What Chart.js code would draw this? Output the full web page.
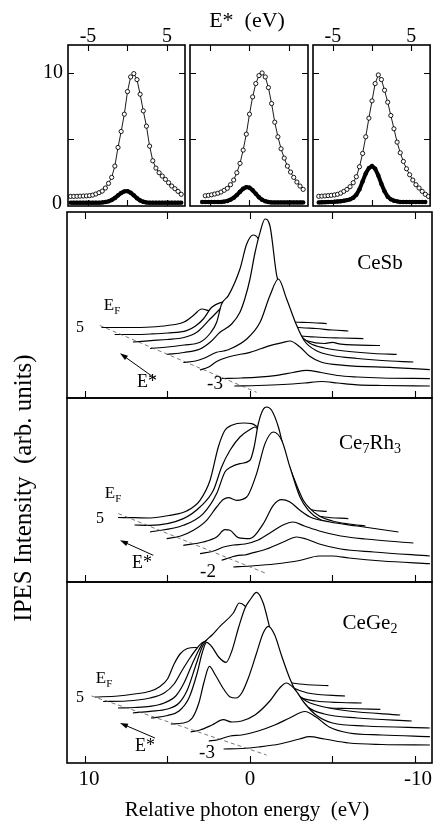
<!DOCTYPE html>
<html>
<head>
<meta charset="utf-8">
<script src="https://cdn.jsdelivr.net/npm/chart.js@4.4.0/dist/chart.umd.min.js"></script>
<style>
  html, body { margin: 0; background: #fff; }
  #wrap { position: relative; width: 435px; height: 823px; }
  #wrap canvas { position: absolute; left: 0; top: 0; }
</style>
</head>
<body>
<div id="wrap">
  <canvas id="res1" width="435" height="823"></canvas>
  <canvas id="res2" width="435" height="823"></canvas>
  <canvas id="res3" width="435" height="823"></canvas>
  <canvas id="specSb" width="435" height="823"></canvas>
  <canvas id="specRh" width="435" height="823"></canvas>
  <canvas id="specGe" width="435" height="823"></canvas>
</div>
<script>
// resonance profiles, E* grid (eV)
const eGrid = [-7.2,-6.8,-6.4,-6.0,-5.6,-5.2,-4.8,-4.4,-4.0,-3.6,-3.2,-2.8,-2.4,-2.0,-1.6,-1.2,-0.8,-0.4,0,
  0.4,0.8,1.2,1.6,2.0,2.4,2.8,3.2,3.6,4.0,4.4,4.8,5.2,5.6,6.0,6.4,6.8,7.2];

const openSb = [0.72,0.72,0.73,0.74,0.75,0.76,0.78,0.82,0.9,1.0,1.12,1.35,1.7,2.15,3.0,4.4,5.6,6.9,8.6,
  9.7,9.95,9.5,8.4,7.15,6.0,4.5,3.4,2.85,2.5,2.25,2.0,1.75,1.5,1.3,1.1,0.88,null];
const filledSb = [0.25,0.25,0.25,0.25,0.25,0.25,0.25,0.25,0.25,0.25,0.27,0.3,0.35,0.45,0.6,0.8,0.98,1.1,1.12,
  1.0,0.8,0.58,0.42,0.32,0.27,0.25,0.25,0.25,0.25,0.25,0.25,0.25,0.25,0.25,0.25,0.25,null];

const openRh = [null,null,null,null,0.77,0.8,0.84,0.9,0.96,1.05,1.18,1.33,1.6,1.95,2.5,3.2,4.2,5.4,6.9,
  8.2,9.2,9.8,10.0,9.7,8.9,7.7,6.3,5.2,4.3,3.6,3.0,2.55,2.15,1.8,1.5,1.25,null];
const filledRh = [null,null,null,0.3,0.3,0.3,0.3,0.3,0.3,0.3,0.33,0.38,0.48,0.62,0.82,1.07,1.3,1.42,1.38,
  1.18,0.92,0.66,0.47,0.36,0.3,0.27,0.27,0.27,0.27,0.27,0.27,0.27,0.27,0.27,0.27,0.27,null];

const openGe = [null,0.73,0.74,0.76,0.78,0.8,0.83,0.88,0.97,1.1,1.25,1.45,1.75,2.2,2.95,3.95,5.2,6.6,7.9,
  9.2,9.85,9.5,8.7,7.8,6.8,5.8,4.8,4.0,3.35,2.8,2.35,1.95,1.6,1.35,1.1,0.88,0.72];
const filledGe = [null,0.27,0.28,0.29,0.3,0.31,0.32,0.34,0.36,0.39,0.44,0.5,0.62,0.85,1.25,1.85,2.45,2.85,3.0,
  2.8,2.3,1.65,1.1,0.7,0.5,0.4,0.35,0.3,0.3,0.3,0.3,0.3,0.3,0.3,0.3,0.3,null];

// IPES spectra: [relative photon energy (eV), intensity], back curve first
const cesb1 = [[9.0,70.5],[7.5,70.5],[6.0,71],[5.0,72.5],[4.0,76],[3.4,83],[2.93,89],[2.4,87],[1.5,86],[0.5,84],[-1.0,81],[-2.7,76],[-3.5,75.5],[-4.65,74.4]];
const cesb2 = [[8.2,63.5],[7.0,63.5],[6.0,64],[5.0,65],[3.84,67.4],[3.3,72],[2.83,79],[2.32,90.7],[1.72,95.7],[1.2,97],[0.5,95],[-0.5,88],[-1.5,80],[-2.8,71],[-4.0,69.5],[-5.0,68],[-5.96,67]];
const cesb3 = [[7.1,56],[6.0,57.4],[5.0,58.5],[4.0,60.5],[3.2,66],[2.42,79],[1.82,89],[1.31,98.4],[0.8,100],[0,95],[-1.0,86],[-2.0,72],[-2.9,63],[-4.0,61],[-5.5,60],[-6.87,59.4]];
const cesb4 = [[6.06,49.5],[5.0,51],[4.0,53],[3.03,55.7],[2.4,65],[2.02,75.7],[1.72,94],[1.31,102.4],[0.61,129],[0.2,154],[-0.2,163],[-0.51,159],[-0.8,146],[-1.2,125],[-1.7,100],[-2.3,78],[-2.9,62],[-3.5,57],[-4.5,54.5],[-5.0,55.6],[-5.5,53.8],[-7.88,52.5]];
const cesb5 = [[5.05,43.5],[4.0,45.5],[3.03,49],[2.4,56],[1.82,65.7],[1.11,74],[0.61,85.7],[0.3,100],[0,119],[-0.3,145],[-0.61,165.7],[-0.91,179],[-1.21,172],[-1.62,122.4],[-2.22,92.4],[-2.63,75.7],[-3.0,64],[-3.6,55],[-4.5,50],[-6.0,46.5],[-7.5,44.5],[-8.89,43.7]];
const cesb6 = [[4.04,35.5],[3.3,37],[2.83,39.5],[2.02,45.7],[1.6,47],[1.21,49],[0.2,59],[-0.61,75.7],[-1.21,102.4],[-1.72,119],[-2.22,99],[-2.83,72.4],[-3.3,57],[-4.0,47.5],[-5.0,42.5],[-6.5,39.5],[-8.0,37.5],[-9.9,36]];
const cesb7 = [[3.03,28],[2.5,31],[2.02,36.5],[1.21,41.5],[0,45.7],[-1.21,52.4],[-2.02,55.7],[-2.42,57],[-3.03,51],[-3.6,42],[-4.3,36],[-5.7,32.7],[-8.7,30.4],[-10.9,28.4]];
const cesb8 = [[1.7,19.5],[0.5,20],[-0.5,20.8],[-1.64,22.7],[-2.6,25.5],[-3.43,27.7],[-4.3,25.5],[-5.3,22.5],[-6.5,21],[-8.0,20],[-10.9,19.4]];
const cesb9 = [[0.95,12],[-0.5,12.5],[-2.0,13.5],[-3.3,15],[-4.34,16.5],[-5.3,15],[-6.5,13.2],[-8.0,12.5],[-10.9,12]];
const cesbEF = [[9.1,72.5],[-0.4,5.7]];

const rh1 = [[8.0,64.5],[7.0,64.3],[6.06,64],[4.85,66.7],[3.84,71],[3.03,81.7],[2.42,101.7],[1.92,135],[1.52,151.7],[1.11,156.7],[0.4,159],[-0.1,158.4],[-0.4,155.7],[-0.8,150],[-1.4,132],[-2.0,108],[-2.6,88],[-3.2,76],[-3.8,72],[-4.65,70.7]];
const rh2 = [[7.0,57],[6.06,56.7],[4.04,63.4],[3.03,75],[2.22,91.7],[1.72,115],[1.21,131.7],[0.61,145],[0,152.4],[-0.3,155],[-0.6,150],[-1.1,136],[-1.7,115],[-2.4,90],[-3.0,75],[-3.6,68],[-4.5,65],[-5.96,63.4]];
const rh3 = [[6.06,50],[4.04,56.7],[2.83,68.4],[2.02,88.4],[1.52,110],[1.21,114.4],[0.61,118.4],[0,121.7],[-0.25,135],[-0.5,158],[-0.78,172],[-1.01,175],[-1.31,171.7],[-1.72,155],[-2.12,128.4],[-2.63,105],[-3.23,81.7],[-3.64,73.4],[-4.2,66],[-5.0,61],[-6.0,58],[-7.0,56]];
const rh4 = [[5.05,43.4],[4.2,46],[3.43,51.7],[2.63,61.7],[2.02,75],[1.62,82.4],[1.31,84.4],[0.81,81.7],[0.2,85],[-0.4,108.4],[-0.91,138.4],[-1.41,150],[-1.92,141.7],[-2.42,115],[-3.03,85],[-3.54,71.7],[-4.2,63],[-5.2,58],[-6.5,55],[-8.0,52]];
const rh5 = [[4.04,36.7],[2.83,40],[2.02,45],[1.52,52.4],[1.21,51.7],[0.71,44.4],[0,43.4],[-0.81,58.4],[-1.41,76.7],[-1.92,82.4],[-2.42,80],[-3.03,71.7],[-3.64,65],[-4.85,60],[-6.5,56],[-9.0,50]];
const rh6 = [[3.03,28.4],[2.2,31],[1.6,35],[1.0,37],[0.3,38],[-0.5,42],[-1.3,50],[-2.0,57],[-2.6,60],[-3.3,56],[-4.2,51],[-5.5,46],[-7.0,43],[-9.9,39]];
const rh7 = [[1.72,21.7],[1.2,24.5],[0.71,26.7],[0.3,27],[0,28.4],[-1.0,33],[-2.02,40],[-2.83,45],[-3.4,43],[-4.2,38],[-5.5,33],[-7.5,30],[-10.9,26]];
const rh8 = [[1.01,15],[0,16],[-1.5,18],[-3.0,21.5],[-4.2,26],[-5.0,26],[-6.0,24],[-8.0,21],[-10.9,18.4]];
const rhEF = [[7.98,68.4],[-1.0,8.4]];

const ge1 = [[9.4,66],[8.0,67],[7.0,69],[6.06,71.7],[5.5,76],[5.0,84],[4.6,99],[4.24,109],[3.8,114.5],[3.3,115.5],[2.9,114],[2.0,106],[1.0,100],[0,95],[-1.0,88],[-2.0,82],[-3.0,79],[-4.75,77.3]];
const ge2 = [[8.9,61.5],[7.5,62],[6.06,65],[5.2,70],[4.6,79],[4.1,93],[3.6,106],[3.2,115],[2.8,121],[2.5,120],[1.5,112],[0.5,104],[-0.5,96],[-1.5,86],[-2.5,76],[-3.5,70],[-5.76,67]];
const ge3 = [[8.0,55],[7.0,55.5],[6.06,56.7],[5.2,60],[4.5,67],[4.0,80],[3.5,99],[3.1,113],[2.8,121],[2.5,123],[2.0,121],[1.0,114],[0,106],[-1.0,95],[-2.0,80],[-3.0,66],[-4.0,62],[-5.5,60.5],[-6.77,60]];
const ge4 = [[7.1,50],[6.06,51.7],[5.0,54],[4.3,60],[3.8,73],[3.3,97],[2.9,116],[2.63,123],[2.3,128],[1.82,136.7],[1.01,150],[0.65,160],[0.3,157],[0,150],[-0.6,135],[-1.2,115],[-1.8,95],[-2.5,75],[-3.2,62],[-4.2,56],[-6.0,54.5],[-7.9,53.7]];
const ge5 = [[6.0,45],[5.0,47.5],[4.3,52],[3.7,65],[3.2,90],[2.9,110],[2.63,120.7],[2.3,116],[1.9,106],[1.45,100.7],[1.1,112],[0.7,135],[0.3,155],[0,163],[-0.4,170.7],[-0.8,160],[-1.2,135],[-1.6,110],[-2.1,88],[-2.7,72],[-3.4,62],[-4.5,56],[-6.0,52],[-9.1,48]];
const ge6 = [[4.8,39],[4.04,40],[3.5,45],[3.1,60],[2.8,80],[2.46,96.7],[2.1,88],[1.6,74],[1.2,66],[0.85,65],[0.5,70],[0.1,85],[-0.4,110],[-0.8,130],[-1.11,136.7],[-1.5,128],[-1.9,108],[-2.4,85],[-2.9,68],[-3.5,56],[-4.5,49],[-6.5,45],[-9.8,42]];
const ge7 = [[3.6,31],[3.03,33],[2.3,38],[1.62,43.3],[1.1,41],[0.5,42],[-0.3,48],[-1.2,62],[-1.8,75],[-2.2,80],[-2.7,74],[-3.3,60],[-4.0,48],[-5.0,40],[-7.0,37],[-10.9,35]];
const ge8 = [[2.5,22],[2.0,23],[1.2,27],[0.5,28],[-0.5,32],[-1.5,38],[-2.4,45],[-3.33,51.5],[-4.0,46],[-4.8,36],[-6.0,30],[-8.0,28],[-10.9,26.3]];
const ge9 = [[1.6,14],[0.5,14.5],[-0.5,16],[-1.8,19],[-3.0,24],[-3.6,26.3],[-4.5,24],[-6.0,20],[-8.0,18.5],[-10.9,18]];
const geEF = [[9.6,67],[-1.0,8]];

const photonTicks = [10, 5, 0, -5, -10];
const eStarTicks = [-5, 0, 5];
const resTicks = [5, 10];

const W = 435, H = 823;
const serif = "'Liberation Serif','DejaVu Serif','Times New Roman',serif";

// text with optional subscript pieces: ['Ce', ['7'], 'Rh', ['3']]
function drawText(ctx, parts, x, y, size, align) {
  const pieces = parts.map(p => Array.isArray(p)
    ? { t: p[0], s: Math.round(size * 0.66), dy: size * 0.3 }
    : { t: p, s: size, dy: 0 });
  let w = 0;
  for (const p of pieces) { ctx.font = p.s + 'px ' + serif; p.w = ctx.measureText(p.t).width; w += p.w; }
  let cx = align === 'right' ? x - w : align === 'left' ? x : x - w / 2;
  ctx.textAlign = 'left';
  ctx.textBaseline = 'middle';
  for (const p of pieces) { ctx.font = p.s + 'px ' + serif; ctx.fillText(p.t, cx, y + p.dy); cx += p.w; }
}

// frame, inward ticks, arrows and labels
const decor = {
  id: 'decor',
  afterDraw(chart, args, o) {
    const ctx = chart.ctx, a = chart.chartArea, sx = chart.scales.x, sy = chart.scales.y;
    ctx.save();
    ctx.strokeStyle = '#000';
    ctx.fillStyle = '#000';
    ctx.lineWidth = 1.1;
    ctx.beginPath();
    for (const v of o.xTicks || []) {
      const px = Math.round(sx.getPixelForValue(v)) + 0.5;
      if (o.topTicks) { ctx.moveTo(px, a.top); ctx.lineTo(px, a.top + o.tick); }
      ctx.moveTo(px, a.bottom); ctx.lineTo(px, a.bottom - o.tick);
    }
    for (const v of o.yTicks || []) {
      const py = Math.round(sy.getPixelForValue(v)) + 0.5;
      ctx.moveTo(a.left, py); ctx.lineTo(a.left + o.tick, py);
      ctx.moveTo(a.right, py); ctx.lineTo(a.right - o.tick, py);
    }
    ctx.stroke();
    ctx.lineWidth = 1.6;
    ctx.strokeRect(a.left, a.top, a.right - a.left, a.bottom - a.top);

    ctx.lineWidth = 1;
    for (const [x0, y0, x1, y1] of o.arrows || []) {
      const p0x = sx.getPixelForValue(x0), p0y = sy.getPixelForValue(y0);
      const p1x = sx.getPixelForValue(x1), p1y = sy.getPixelForValue(y1);
      const ang = Math.atan2(p1y - p0y, p1x - p0x);
      const c = Math.cos(ang), s = Math.sin(ang);
      ctx.beginPath(); ctx.moveTo(p0x, p0y); ctx.lineTo(p1x - 4 * c, p1y - 4 * s); ctx.stroke();
      ctx.beginPath();
      ctx.moveTo(p1x, p1y);
      ctx.lineTo(p1x - 8 * c + 2.6 * s, p1y - 8 * s - 2.6 * c);
      ctx.lineTo(p1x - 8 * c - 2.6 * s, p1y - 8 * s + 2.6 * c);
      ctx.closePath();
      ctx.fill();
    }
    for (const t of o.texts || []) {
      const x = t.xv !== undefined ? sx.getPixelForValue(t.xv) + (t.dx || 0) : t.x;
      ctx.save();
      ctx.translate(x, t.y);
      if (t.rot) ctx.rotate(t.rot);
      drawText(ctx, t.parts, 0, 0, t.size, t.align);
      ctx.restore();
    }
    ctx.restore();
  }
};

function baseOptions(area, xScale, yMax, decorOpts) {
  return {
    responsive: false,
    animation: false,
    devicePixelRatio: 1,
    events: [],
    layout: { padding: { left: area[0], top: area[1], right: W - area[2], bottom: H - area[3] } },
    scales: {
      x: Object.assign({ type: 'linear', display: false }, xScale),
      y: { type: 'linear', min: 0, max: yMax, display: false }
    },
    plugins: { legend: { display: false }, tooltip: { enabled: false }, decor: decorOpts }
  };
}

function resonanceChart(id, area, xMax, open, filled, decorOpts) {
  const pairs = vals => eGrid.map((e, i) => [e, vals[i]]);
  new Chart(document.getElementById(id), {
    type: 'line',
    data: {
      datasets: [
        { data: pairs(open), borderColor: '#000', borderWidth: 0.9, pointRadius: 2.1,
          pointBorderWidth: 0.9, pointBorderColor: '#000', pointBackgroundColor: '#fff', fill: false },
        { data: pairs(filled), borderColor: '#000', borderWidth: 4, pointRadius: 2.2,
          pointBorderWidth: 0, pointBackgroundColor: '#000', fill: false }
      ]
    },
    options: baseOptions(area, { min: -7.53, max: xMax }, 12.1, decorOpts),
    plugins: [decor]
  });
}

function spectraChart(id, area, yMax, curves, ef, decorOpts) {
  // front curves are drawn last and their white fill hides what lies behind
  const datasets = [{ data: ef, borderColor: '#555', borderWidth: 0.8, borderDash: [4, 3], pointRadius: 0, fill: false }];
  curves.slice().reverse().forEach(c => datasets.push({
    data: c, borderColor: '#000', borderWidth: 1.2, pointRadius: 0,
    fill: 'start', backgroundColor: '#fff', cubicInterpolationMode: 'monotone'
  }));
  new Chart(document.getElementById(id), {
    type: 'line',
    data: { datasets },
    options: baseOptions(area, { min: -11.03, max: 11.09, reverse: true }, yMax, decorOpts),
    plugins: [decor]
  });
}

resonanceChart('res1', [68, 45, 185, 206], 7.28, openSb, filledSb, {
  xTicks: eStarTicks, topTicks: true, yTicks: resTicks, tick: 6,
  texts: [
    { parts: ['E*  (eV)'], x: 247, y: 21, size: 22 },
    { parts: ['-5'], xv: -5, y: 37, size: 20 },
    { parts: ['5'], xv: 5, y: 37, size: 20 },
    { parts: ['10'], x: 63, y: 73, size: 20, align: 'right' },
    { parts: ['0'], x: 62, y: 204, size: 20, align: 'right' }
  ]
});
resonanceChart('res2', [190, 45, 308, 206], 7.41, openRh, filledRh, {
  xTicks: eStarTicks, topTicks: true, yTicks: resTicks, tick: 6
});
resonanceChart('res3', [313, 45, 431, 206], 7.41, openGe, filledGe, {
  xTicks: eStarTicks, topTicks: true, yTicks: resTicks, tick: 6,
  texts: [
    { parts: ['-5'], xv: -5, y: 37, size: 20 },
    { parts: ['5'], xv: 5, y: 37, size: 20 }
  ]
});

spectraChart('specSb', [67, 212, 432, 398], 186,
  [cesb1, cesb2, cesb3, cesb4, cesb5, cesb6, cesb7, cesb8, cesb9], cesbEF, {
  xTicks: photonTicks, topTicks: true, tick: 7,
  arrows: [[5.76, 19.7, 7.88, 44.7]],
  texts: [
    { parts: ['CeSb'], x: 380, y: 263, size: 21 },
    { parts: ['E', ['F']], x: 112, y: 306, size: 17 },
    { parts: ['5'], x: 80, y: 328, size: 16 },
    { parts: ['E*'], x: 147, y: 382, size: 18 },
    { parts: ['-3'], x: 215, y: 384, size: 19 }
  ]
});
spectraChart('specRh', [67, 398, 432, 582], 184,
  [rh1, rh2, rh3, rh4, rh5, rh6, rh7, rh8], rhEF, {
  xTicks: photonTicks, topTicks: false, tick: 7,
  arrows: [[5.86, 26.7, 7.88, 41.7]],
  texts: [
    { parts: ['Ce', ['7'], 'Rh', ['3']], x: 370, y: 443, size: 21 },
    { parts: ['E', ['F']], x: 113, y: 494, size: 17 },
    { parts: ['5'], x: 100, y: 519, size: 16 },
    { parts: ['E*'], x: 142, y: 563, size: 18 },
    { parts: ['-2'], x: 208, y: 572, size: 19 }
  ]
});
spectraChart('specGe', [67, 582, 432, 763], 181,
  [ge1, ge2, ge3, ge4, ge5, ge6, ge7, ge8, ge9], geEF, {
  xTicks: photonTicks, topTicks: false, tick: 7,
  arrows: [[5.76, 25, 7.88, 40]],
  texts: [
    { parts: ['CeGe', ['2']], x: 370, y: 623, size: 21 },
    { parts: ['E', ['F']], x: 104, y: 679, size: 17 },
    { parts: ['5'], x: 80, y: 698, size: 16 },
    { parts: ['E*'], x: 145, y: 746, size: 18 },
    { parts: ['-3'], x: 207, y: 753, size: 19 },
    { parts: ['10'], xv: 10, dx: 4, y: 779, size: 21 },
    { parts: ['0'], xv: 0, y: 779, size: 21 },
    { parts: ['-10'], xv: -10, dx: 3, y: 779, size: 21 },
    { parts: ['Relative photon energy  (eV)'], x: 247, y: 810, size: 21 },
    { parts: ['IPES Intensity  (arb. units)'], x: 24, y: 488, size: 25, rot: -Math.PI / 2 }
  ]
});
</script>
</body>
</html>
